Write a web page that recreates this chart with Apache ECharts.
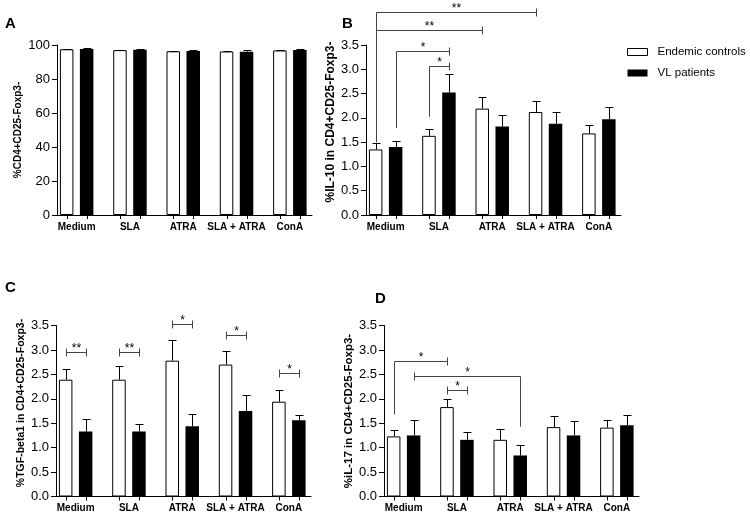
<!DOCTYPE html>
<html lang="en">
  <head>
    <meta charset="UTF-8" />
    <title>Foxp3- T cell cytokines</title>
    <script src="https://cdn.jsdelivr.net/npm/echarts@6/dist/echarts.min.js"></script>
    <style>
      body { margin: 0; padding: 0; background: #fff; }
      #chart { width: 750px; height: 515px; }
    </style>
  </head>
  <body>
    <div id="chart"></div>
    <script>
      var categories = ['Medium', 'SLA', 'ATRA', 'SLA + ATRA', 'ConA'];

      // panel A: %CD4+CD25-Foxp3-
      var aControl = [97.5, 97.0, 96.3, 96.2, 96.8];
      var aControlSem = [0.3, 0.3, 0.3, 0.3, 0.3];
      var aVl = [97.7, 97.2, 96.5, 96.0, 97.1];
      var aVlSem = [0.3, 0.4, 0.3, 0.8, 0.4];

      // panel B: %IL-10
      var bControl = [1.35, 1.63, 2.19, 2.12, 1.68];
      var bControlSem = [0.13, 0.14, 0.24, 0.22, 0.17];
      var bVl = [1.40, 2.52, 1.82, 1.88, 1.97];
      var bVlSem = [0.13, 0.39, 0.23, 0.24, 0.25];

      // panel C: %TGF-beta1
      var cControl = [2.39, 2.39, 2.78, 2.70, 1.94];
      var cControlSem = [0.22, 0.28, 0.42, 0.27, 0.24];
      var cVl = [1.33, 1.33, 1.44, 1.75, 1.56];
      var cVlSem = [0.25, 0.15, 0.25, 0.32, 0.10];

      // panel D: %iL-17
      var dControl = [1.23, 1.83, 1.16, 1.42, 1.41];
      var dControlSem = [0.13, 0.17, 0.22, 0.23, 0.15];
      var dVl = [1.25, 1.16, 0.84, 1.25, 1.46];
      var dVlSem = [0.31, 0.15, 0.21, 0.29, 0.21];

      // significance: [group1, bar1, group2, bar2, level, drop1, drop2, label]  (bar 0 = controls, 1 = VL)
      var bSig = [
        [0, 0, 3, 0, 4.18, 1.50, null, '**'],
        [0, 0, 2, 0, 3.81, 1.50, null, '**'],
        [0, 1, 1, 1, 3.38, 1.79, null, '*'],
        [1, 0, 1, 1, 3.07, 2.02, null, '*']
      ];
      var cSig = [
        [0, 0, 0, 1, 2.95, null, null, '**'],
        [1, 0, 1, 1, 2.95, null, null, '**'],
        [2, 0, 2, 1, 3.54, null, null, '*'],
        [3, 0, 3, 1, 3.31, null, null, '*'],
        [4, 0, 4, 1, 2.52, null, null, '*']
      ];
      var dSig = [
        [0, 0, 1, 0, 2.78, 1.68, null, '*'],
        [0, 1, 2, 1, 2.47, null, 1.43, '*'],
        [1, 0, 1, 1, 2.17, null, null, '*']
      ];

      var FONT = 'Liberation Sans, Arial, sans-serif';
      var panels = [
        { letter: 'A', dx: 0, top: 45, height: 170, max: 100, interval: 20, name: '%CD4+CD25-Foxp3-', nameGap: 34, nameSize: 10, namePad: 0,
          control: aControl, controlSem: aControlSem, vl: aVl, vlSem: aVlSem, sig: [], lx: 5, ly: 16 },
        { letter: 'B', dx: 309, top: 45, height: 170, max: 3.5, interval: 0.5, name: '%IL-10 in CD4+CD25-Foxp3-', nameGap: 29, nameSize: 12, namePad: 16,
          control: bControl, controlSem: bControlSem, vl: bVl, vlSem: bVlSem, sig: bSig, lx: 342, ly: 16 },
        { letter: 'C', dx: -1, top: 325.5, height: 171, max: 3.5, interval: 0.5, name: '%TGF-beta1 in CD4+CD25-Foxp3-', nameGap: 29, nameSize: 10.5, namePad: 16,
          control: cControl, controlSem: cControlSem, vl: cVl, vlSem: cVlSem, sig: cSig, lx: 5, ly: 280 },
        { letter: 'D', dx: 327, top: 325.5, height: 171, max: 3.5, interval: 0.5, name: '%iL-17 in CD4+CD25-Foxp3-', nameGap: 26, nameSize: 11.5, namePad: 0,
          control: dControl, controlSem: dControlSem, vl: dVl, vlSem: dVlSem, sig: dSig, lx: 375, ly: 291 }
      ];

      var OFF = 10; // half distance between paired bar centres, px

      function barX(api, g, b) {
        return api.coord([g, 0])[0] + (b ? OFF : -OFF);
      }

      var grid = [], xAxis = [], yAxis = [], series = [], title = [];

      panels.forEach(function (p, i) {
        var plot = i * 2, lab = i * 2 + 1;
        // axis frame
        grid.push({ left: 57 + p.dx, top: p.top, width: 255, height: p.height });
        // category band layout for bars
        grid.push({ left: 50 + p.dx, top: p.top, width: 266.5, height: p.height });

        xAxis.push({
          gridIndex: plot, type: 'value', min: 0, max: 1,
          axisLine: { show: true, lineStyle: { color: '#000', width: 1 } },
          axisTick: { show: false }, axisLabel: { show: false }, splitLine: { show: false }
        });
        xAxis.push({
          gridIndex: lab, type: 'category', data: categories,
          axisLine: { show: false }, axisTick: { show: false },
          axisLabel: { margin: 7, fontSize: 10, fontWeight: 'bold', color: '#000', fontFamily: FONT, interval: 0 }
        });
        yAxis.push({
          gridIndex: plot, type: 'value', min: 0, max: p.max, interval: p.interval,
          name: p.name, nameLocation: 'middle', nameRotate: 90, nameGap: p.nameGap,
          nameTextStyle: { fontSize: p.nameSize, fontWeight: 'bold', color: '#000', fontFamily: FONT, padding: [0, 0, 0, p.namePad] },
          axisLine: { show: true, lineStyle: { color: '#000', width: 1 } },
          axisTick: { show: true, length: 5, lineStyle: { color: '#000' } },
          axisLabel: {
            margin: 7, fontSize: 13, color: '#000', fontFamily: FONT,
            formatter: function (v) { return p.max > 10 ? String(v) : v.toFixed(1); }
          },
          splitLine: { show: false }
        });
        yAxis.push({ gridIndex: lab, type: 'value', min: 0, max: p.max, show: false });

        series.push({
          name: 'Endemic controls', type: 'bar', xAxisIndex: lab, yAxisIndex: lab,
          barWidth: 13.5, barGap: '48%', data: p.control,
          itemStyle: { color: '#fff', borderColor: '#000', borderWidth: 1 }, silent: true
        });
        series.push({
          name: 'VL patients', type: 'bar', xAxisIndex: lab, yAxisIndex: lab,
          barWidth: 13.5, barGap: '48%', data: p.vl,
          itemStyle: { color: '#000' }, silent: true
        });

        // error bars + tick under each bar
        var errData = [];
        categories.forEach(function (c, k) {
          errData.push([k, p.control[k], p.control[k] + p.controlSem[k], 0]);
          errData.push([k, p.vl[k], p.vl[k] + p.vlSem[k], 1]);
        });
        series.push({
          type: 'custom', xAxisIndex: lab, yAxisIndex: lab, z: 4, silent: true,
          data: errData,
          renderItem: function (params, api) {
            var g = api.value(0);
            var x = Math.round(barX(api, g, api.value(3))) + 0.5;
            var yv = api.coord([g, api.value(1)])[1];
            var ye = Math.round(api.coord([g, api.value(2)])[1]) + 0.5;
            var y0 = api.coord([g, 0])[1];
            var st = { stroke: '#000', lineWidth: 1 };
            return {
              type: 'group',
              children: [
                { type: 'line', shape: { x1: x, y1: yv, x2: x, y2: ye }, style: st },
                { type: 'line', shape: { x1: x - 4, y1: ye, x2: x + 4, y2: ye }, style: st },
                { type: 'line', shape: { x1: x, y1: y0, x2: x, y2: y0 + 4 }, style: st }
              ]
            };
          }
        });

        // significance brackets
        if (p.sig.length) {
          var sig = p.sig;
          series.push({
            type: 'custom', xAxisIndex: lab, yAxisIndex: lab, z: 5, silent: true,
            data: sig.map(function (s) { return [s[0], s[4]]; }),
            renderItem: function (params, api) {
              var s = sig[params.dataIndex];
              var x1 = Math.round(barX(api, s[0], s[1])) + 0.5;
              var x2 = Math.round(barX(api, s[2], s[3])) + 0.5;
              var y = Math.round(api.coord([0, s[4]])[1]) + 0.5;
              var st = { stroke: '#444', lineWidth: 1 };
              function end(x, drop) {
                if (drop == null) return { type: 'line', shape: { x1: x, y1: y - 4, x2: x, y2: y + 4 }, style: st };
                return { type: 'line', shape: { x1: x, y1: y, x2: x, y2: api.coord([0, drop])[1] }, style: st };
              }
              return {
                type: 'group',
                children: [
                  { type: 'line', shape: { x1: x1, y1: y, x2: x2, y2: y }, style: st },
                  end(x1, s[5]),
                  end(x2, s[6]),
                  {
                    type: 'text', x: (x1 + x2) / 2, y: y + 2,
                    style: { text: s[7], fill: '#000', font: '12px ' + FONT, align: 'center', verticalAlign: 'bottom' }
                  }
                ]
              };
            }
          });
        }

        title.push({
          text: p.letter, left: p.lx, top: p.ly, padding: 0,
          textStyle: { fontSize: 15, fontWeight: 'bold', color: '#000', fontFamily: FONT }
        });
      });

      var chart = echarts.init(document.getElementById('chart'));
      chart.setOption({
        animation: false,
        backgroundColor: '#fff',
        title: title,
        legend: {
          orient: 'vertical', left: 627, top: 45, padding: 0, itemWidth: 20, itemHeight: 7, itemGap: 7,
          icon: 'rect',
          textStyle: { fontSize: 11.5, color: '#000', fontFamily: FONT, lineHeight: 14, padding: [0, 0, 0, 5] },
          data: [
            { name: 'Endemic controls', itemStyle: { color: '#fff', borderColor: '#000', borderWidth: 1 } },
            { name: 'VL patients', itemStyle: { color: '#000' } }
          ]
        },
        grid: grid,
        xAxis: xAxis,
        yAxis: yAxis,
        series: series
      });
    </script>
  </body>
</html>
